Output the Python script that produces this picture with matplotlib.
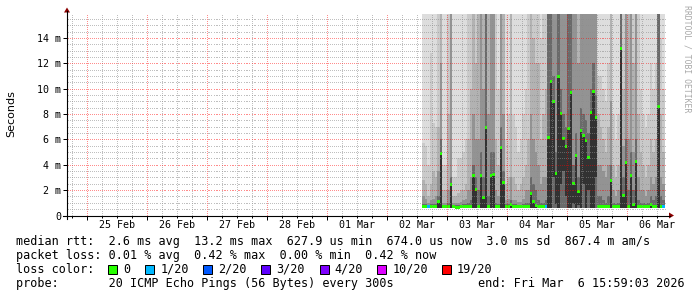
import numpy as np
import matplotlib
matplotlib.use("Agg")
import matplotlib.pyplot as plt
from matplotlib.patches import Rectangle, Polygon
from matplotlib.lines import Line2D
from matplotlib.ticker import MultipleLocator, NullFormatter

# ---------------- data ----------------
window_start = "2026-02-24T15:59:03"
window_end = "2026-03-06T15:59:03"
series_start = "2026-03-02T14:00:00"   # first hourly column
step_hours = 1

median_ms = [
    0.68, 0.68, 0.70, 0.68, 0.68, 0.70, 1.12, 4.85, 0.68, 0.68,
    0.68, 2.46, 0.68, 0.66, 0.66, 0.68, 0.68, 0.68, 0.70, 0.70,
    3.14, 2.06, 0.70, 3.17, 1.43, 6.90, 0.70, 3.14, 3.27, 0.70,
    0.70, 5.34, 2.60, 0.70, 0.70, 0.88, 0.68, 0.68, 0.68, 0.68,
    0.68, 0.68, 0.70, 1.75, 1.14, 0.80, 0.68, 0.68, 0.68, 0.68,
    6.13, 10.57, 8.97, 3.32, 10.94, 8.05, 6.08, 5.42, 6.84, 9.68,
    2.50, 4.69, 1.88, 6.68, 6.29, 5.90, 4.61, 8.10, 9.76, 7.71,
    0.68, 0.68, 0.68, 0.68, 0.68, 2.74, 0.68, 0.68, 0.68, 13.20,
    1.54, 4.16, 0.68, 3.14, 0.85, 4.29, 0.68, 0.68, 0.68, 0.68,
    0.68, 0.85, 0.68, 0.68, 8.60, 0.68, 0.68,
]
lost_pings = [
    0, 0, 1, 0, 0, 0, 0, 0, 0, 0,
    0, 0, 0, 0, 0, 0, 0, 0, 0, 0,
    0, 0, 0, 0, 0, 0, 0, 0, 0, 0,
    0, 0, 0, 0, 0, 0, 0, 0, 0, 0,
    0, 0, 0, 0, 0, 0, 0, 0, 0, 1,
    0, 0, 0, 0, 0, 0, 0, 0, 0, 0,
    0, 0, 0, 0, 0, 0, 0, 0, 0, 0,
    0, 0, 0, 0, 0, 0, 0, 0, 0, 0,
    0, 0, 0, 0, 0, 0, 0, 0, 0, 0,
    0, 0, 0, 0, 0, 0, 1,
]
# lower edge of the darkest smoke band (ms)
smoke_core_lo = [
    0.6, 0.6, 0.6, 0.6, 0.6, 0.6, 0.6, 0.6, 0.6, 0.6,
    0.6, 0.6, 0.6, 0.6, 0.6, 0.6, 0.6, 0.6, 0.6, 0.6,
    0.6, 0.6, 0.6, 0.6, 0.6, 0.6, 0.6, 0.6, 0.6, 0.6,
    0.6, 0.6, 0.6, 0.6, 0.6, 0.6, 0.6, 0.6, 0.6, 0.6,
    0.6, 0.6, 0.6, 0.6, 0.6, 0.6, 0.6, 0.6, 0.6, 0.6,
    0.6, 0.6, 3.0, 0.9, 0.6, 2.5, 3.5, 1.5, 0.6, 0.6,
    0.9, 0.6, 0.8, 0.6, 2.5, 0.6, 2.0, 0.6, 0.6, 3.0,
    0.6, 0.6, 0.6, 0.6, 0.6, 0.6, 0.6, 0.6, 0.6, 0.6,
    0.6, 0.6, 0.6, 0.6, 0.6, 0.6, 0.6, 0.6, 0.6, 0.6,
    0.6, 0.6, 0.6, 0.6, 0.6, 0.6, 0.6,
]
# smoke: upper limits of the grey bands (ms), darkest first
smoke_l1 = [
    0.9, 0.9, 0.8, 0.9, 0.9, 0.9, 1.5, 6.0, 0.8, 0.8,
    1.0, 3.0, 0.8, 0.8, 0.8, 0.8, 0.9, 0.9, 1.0, 1.2,
    4.0, 3.0, 2.0, 5.0, 3.0, 16, 1.5, 5.0, 5.0, 1.0,
    0.9, 7.0, 3.5, 0.9, 0.9, 1.2, 0.9, 0.9, 0.8, 0.8,
    0.9, 1.0, 1.0, 3.0, 2.5, 2.0, 1.2, 1.0, 1.0, 1.2,
    16, 16, 11, 5.0, 16, 10, 8.0, 7.0, 16, 16,
    4.0, 6.5, 3.0, 8.5, 8.0, 7.5, 6.5, 10, 12, 9.5,
    1.5, 1.5, 1.2, 1.0, 1.5, 4.0, 1.0, 0.9, 1.0, 16,
    3.0, 6.0, 2.0, 5.0, 2.0, 6.0, 1.2, 1.0, 1.0, 0.9,
    1.0, 1.5, 1.2, 1.5, 16, 1.5, 1.2,
]
smoke_l2 = [
    1.5, 1.3, 1.0, 1.2, 1.3, 1.5, 3.5, 12, 1.0, 1.0,
    2.0, 16, 1.0, 1.0, 1.0, 1.1, 1.2, 1.3, 2.0, 3.0,
    8.0, 6.0, 6.0, 16, 10, 16, 8.0, 16, 16, 2.0,
    1.5, 16, 8.0, 1.2, 1.3, 3.0, 1.2, 1.2, 1.1, 1.1,
    1.3, 2.0, 2.0, 8.0, 6.0, 5.0, 4.0, 2.5, 3.0, 3.0,
    16, 16, 16, 16, 16, 16, 16, 16, 16, 16,
    16, 16, 12, 16, 16, 16, 16, 16, 16, 16,
    4.0, 4.0, 3.5, 3.0, 4.0, 9.0, 2.0, 1.5, 2.0, 16,
    5.5, 16, 6.0, 16, 5.0, 16, 3.0, 2.0, 2.0, 1.5,
    2.0, 3.0, 2.5, 3.0, 16, 3.0, 2.5,
]
smoke_l3 = [
    2.8, 2.5, 1.5, 2.5, 3.5, 3.0, 7.0, 16, 2.0, 2.0,
    8.0, 16, 1.5, 1.5, 1.8, 2.0, 2.0, 2.5, 6.0, 10,
    16, 12, 16, 16, 16, 16, 16, 16, 16, 6.0,
    4.0, 16, 16, 2.5, 3.0, 16, 3.0, 2.5, 2.0, 2.5,
    3.0, 4.0, 6.0, 16, 14, 12, 12, 6.0, 8.0, 10,
    16, 16, 16, 16, 16, 16, 16, 16, 16, 16,
    16, 16, 16, 16, 16, 16, 16, 16, 16, 16,
    8.0, 7.0, 6.0, 5.0, 7.0, 16, 4.0, 3.0, 4.0, 16,
    10, 16, 16, 16, 12, 16, 8.0, 5.0, 4.0, 3.0,
    4.0, 6.0, 5.0, 6.0, 16, 8.0, 5.0,
]
smoke_l4 = [
    5.7, 5.5, 4.0, 12.8, 7.3, 7.0, 16, 16, 4.0, 4.0,
    16, 16, 3.0, 3.0, 4.5, 4.5, 5.0, 6.0, 16, 16,
    16, 16, 16, 16, 16, 16, 16, 16, 16, 16,
    10, 16, 16, 6.0, 8.0, 16, 8.0, 7.0, 5.0, 6.0,
    8.0, 10, 16, 16, 16, 16, 16, 14, 16, 16,
    16, 16, 16, 16, 16, 16, 16, 16, 16, 16,
    16, 16, 16, 16, 16, 16, 16, 16, 16, 16,
    11, 11, 10, 9.0, 12, 16, 8.0, 6.0, 8.0, 16,
    16, 16, 16, 16, 16, 16, 16, 10, 8.0, 7.0,
    8.0, 12, 10, 12, 16, 14, 10,
]
smoke_min_ms = 0.6
smoke_max_ms = 16.0

day_tick_dates = ["2026-02-25", "2026-02-26", "2026-02-27", "2026-02-28", "2026-03-01",
                  "2026-03-02", "2026-03-03", "2026-03-04", "2026-03-05", "2026-03-06"]
day_tick_labels = ["25 Feb", "26 Feb", "27 Feb", "28 Feb", "01 Mar",
                   "02 Mar", "03 Mar", "04 Mar", "05 Mar", "06 Mar"]
y_tick_values = [0, 2, 4, 6, 8, 10, 12, 14]
y_tick_labels = ["0", "2 m", "4 m", "6 m", "8 m", "10 m", "12 m", "14 m"]
y_max = 15.88

loss_levels = ["0", "1/20", "2/20", "3/20", "4/20", "10/20", "19/20"]
loss_level_counts = [0, 1, 2, 3, 4, 10, 19]
loss_colors = ["#26ff00", "#00b8ff", "#0059ff", "#5e00ff", "#7e00ff", "#dd00ff", "#ff0000"]

legend_line1 = "median rtt:  2.6 ms avg  13.2 ms max  627.9 us min  674.0 us now  3.0 ms sd  867.4 m am/s"
legend_line2 = "packet loss: 0.01 % avg  0.42 % max  0.00 % min  0.42 % now"
legend_line3 = "loss color:"
legend_line4 = "probe:       20 ICMP Echo Pings (56 Bytes) every 300s"
legend_end = "end: Fri Mar  6 15:59:03 2026"
y_title = "Seconds"
watermark = "RRDTOOL / TOBI OETIKER"

# ---------------- helpers ----------------
W, H = 697, 297
AX_L, AX_R, AX_T, AX_B = 67, 667, 14, 215.5   # plot area in pixels
origin = np.datetime64("2026-02-24T00:00:00")


def days(ts):
    return (np.datetime64(ts) - origin) / np.timedelta64(1, "s") / 86400.0


def fx(px):
    return px / W


def fy(py):
    return 1.0 - py / H


MONO = "DejaVu Sans Mono"
PX = 0.72  # one pixel in points

fig = plt.figure(figsize=(W / 100, H / 100), dpi=100)
fig.patch.set_facecolor("white")
ax = fig.add_axes([fx(AX_L), fy(AX_B), (AX_R - AX_L) / W, (AX_B - AX_T) / H])
ax.set_facecolor("white")

x0, x1 = days(window_start), days(window_end)
ax.set_xlim(x0, x1)
ax.set_ylim(0, y_max)

n = len(median_ms)
col_w = step_hours / 24.0
lefts = days(series_start) + np.arange(n) * col_w
med = np.array(median_ms)
core_lo = np.array(smoke_core_lo)

# smoke layers (lightest first, nested)
layers = [
    (np.full(n, smoke_max_ms), "#dddddd"),
    (np.array(smoke_l4), "#cacaca"),
    (np.array(smoke_l3), "#b2b2b2"),
    (np.array(smoke_l2), "#939393"),
    (np.array(smoke_l1), "#6a6a6a"),
]
for top, col in layers:
    ax.bar(lefts, top - smoke_min_ms, bottom=smoke_min_ms, width=col_w, align="edge",
           color=col, linewidth=0, antialiased=False, zorder=1)
# darkest core band around / below the median
ax.bar(lefts, med - core_lo, bottom=core_lo, width=col_w, align="edge",
       color="#323232", linewidth=0, antialiased=False, zorder=1)

# median markers coloured by loss
px_per_ms = (AX_B - AX_T) / y_max
half = 1.5 / px_per_ms
lc = []
for lp in lost_pings:
    idx = 0
    for i, c in enumerate(loss_level_counts):
        if lp >= c:
            idx = i
    lc.append(loss_colors[idx])
ax.bar(lefts, 2 * half, bottom=med - half, width=col_w, align="edge",
       color=lc, linewidth=0, antialiased=False, zorder=2)

# dotted grid (1 px on / 1 px off), drawn above the data
px_per_day = (AX_R - AX_L) / (x1 - x0)
dot_x = x0 + (np.arange(0, AX_R - AX_L, 2) + 0.5) / px_per_day
dot_y = (np.arange(0, AX_B - AX_T, 2) + 0.5) / px_per_ms
minor_h = [v for v in np.arange(0.5, y_max, 0.5) if abs(v / 2 - round(v / 2)) > 1e-6]
major_h = [v for v in np.arange(2, y_max, 2.0)]
first_mid = np.ceil(x0)
vt = np.arange(np.ceil(x0 * 4) / 4, x1, 0.25)
minor_v = [t for t in vt if abs(t - round(t)) > 1e-6]
major_v = [t for t in np.arange(first_mid, x1, 1.0)]


def dots(hs, vs):
    xs, ys = [], []
    for v in hs:
        xs.append(dot_x)
        ys.append(np.full(dot_x.size, v))
    for t in vs:
        xs.append(np.full(dot_y.size, t))
        ys.append(dot_y)
    return np.concatenate(xs), np.concatenate(ys)


mx, my = dots(minor_h, minor_v)
ax.scatter(mx, my, s=PX ** 2, marker="s", c="#8c8c8c", alpha=0.55, linewidths=0,
           antialiased=False, zorder=3, clip_on=True)
Mx, My = dots(major_h, major_v)
ax.scatter(Mx, My, s=PX ** 2, marker="s", c="#ff0000", alpha=0.45, linewidths=0,
           antialiased=False, zorder=3, clip_on=True)

# ticks
ax.xaxis.set_major_locator(MultipleLocator(1.0))
ax.xaxis.set_minor_locator(MultipleLocator(0.25))
ax.xaxis.set_major_formatter(NullFormatter())
ax.xaxis.set_minor_formatter(NullFormatter())
ax.tick_params(axis="x", which="major", length=2.9, width=PX, direction="out", color="black")
ax.tick_params(axis="x", which="minor", length=1.4, width=PX, direction="out", color="black")
ax.set_yticks(y_tick_values)
ax.set_yticklabels(y_tick_labels, fontfamily=MONO, fontsize=7.2)
ax.tick_params(axis="y", which="major", length=2.9, width=PX, direction="out",
               color="black", pad=1.5)
for s in ax.spines.values():
    s.set_visible(False)

# day labels at noon
sec = ax.secondary_xaxis("bottom")
sec.set_xticks([days(d + "T12:00:00") for d in day_tick_dates])
sec.set_xticklabels(day_tick_labels, fontfamily=MONO, fontsize=7.2)
sec.tick_params(length=0, pad=3.0)
for s in sec.spines.values():
    s.set_visible(False)

# axis lines and arrows
fig.add_artist(Line2D([fx(63), fx(670)], [fy(215.5), fy(215.5)], color="black", lw=0.8))
fig.add_artist(Line2D([fx(67), fx(67)], [fy(219), fy(11)], color="black", lw=0.8))
fig.add_artist(Polygon([(fx(64), fy(12.5)), (fx(70), fy(12.5)), (fx(67), fy(7.5))],
                       closed=True, transform=fig.transFigure, color="#8b0000", lw=0))
fig.add_artist(Polygon([(fx(669), fy(212.5)), (fx(669), fy(218.5)), (fx(674), fy(215.5))],
                       closed=True, transform=fig.transFigure, color="#8b0000", lw=0))

# titles
fig.text(fx(11), fy(113.5), y_title, rotation=90, ha="center", va="center",
         fontsize=8.0, fontfamily="DejaVu Sans", color="#000000")
fig.text(fx(686.5), fy(5), watermark, rotation=270, ha="center", va="top",
         fontsize=5.9, fontfamily=MONO, color="#a8a8a8")

# legend
LFS = 8.48
fig.text(fx(16.4), fy(241.5), legend_line1, ha="left", va="center", fontfamily=MONO, fontsize=LFS)
fig.text(fx(16.4), fy(255.5), legend_line2, ha="left", va="center", fontfamily=MONO, fontsize=LFS)
fig.text(fx(16.4), fy(269.5), legend_line3, ha="left", va="center", fontfamily=MONO, fontsize=LFS)
fig.text(fx(16.4), fy(283.5), legend_line4, ha="left", va="center", fontfamily=MONO, fontsize=LFS)
fig.text(fx(478), fy(283.5), legend_end, ha="left", va="center", fontfamily=MONO, fontsize=LFS)

box_x = [108.3, 145.3, 203.3, 261.4, 319.6, 377.3, 441.6]
for bx, lab, col in zip(box_x, loss_levels, loss_colors):
    fig.add_artist(Rectangle((fx(bx), fy(273.5)), 9 / W, 9 / H, transform=fig.transFigure,
                             facecolor=col, edgecolor="black", lw=PX))
    fig.text(fx(bx + 15), fy(269.5), lab, ha="left", va="center", fontfamily=MONO, fontsize=LFS)

fig.savefig("out.png", dpi=100)
